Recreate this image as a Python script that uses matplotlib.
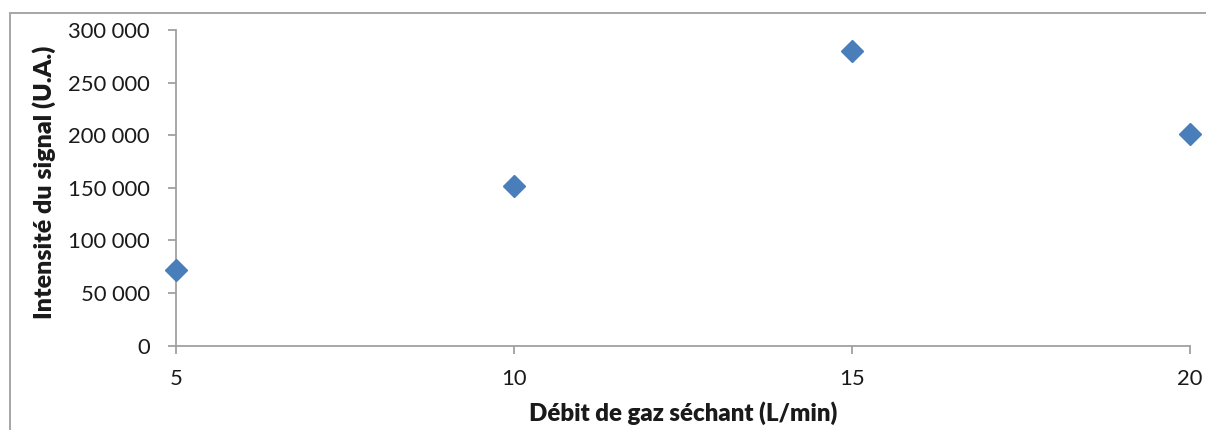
import matplotlib
matplotlib.use("Agg")
import matplotlib.pyplot as plt
from matplotlib.ticker import FuncFormatter, MultipleLocator
from matplotlib.patches import Rectangle

debit = [5, 10, 15, 20]
intensite = [71500, 151500, 280000, 201500]
x_label = "Débit de gaz séchant (L/min)"
y_label = "Intensité du signal (U.A.)"

plt.rcParams['font.family'] = ['Lato', 'DejaVu Sans']

W, H = 1206, 430
fig = plt.figure(figsize=(W / 100, H / 100), dpi=100)
ax = fig.add_axes([176 / W, 1 - 345.7 / H, (1190 - 176) / W, (345.7 - 30) / H])

ax.plot(debit, intensite, linestyle='none', marker='D', markersize=11,
        color='#4A7EBB', markeredgecolor='#4A7EBB', clip_on=False, zorder=5)

ax.set_xlim(5, 20)
ax.set_ylim(0, 300000)
ax.xaxis.set_major_locator(MultipleLocator(5))
ax.yaxis.set_major_locator(MultipleLocator(50000))
ax.yaxis.set_major_formatter(FuncFormatter(lambda v, p: f"{int(v):,}".replace(",", " ")))

for s in ['top', 'right']:
    ax.spines[s].set_visible(False)
for s in ['left', 'bottom']:
    ax.spines[s].set_color('#A0A0A0')
    ax.spines[s].set_linewidth(1.3)

ax.tick_params(axis='both', direction='out', length=6, width=1.3, color='#A0A0A0',
               labelsize=15.8, labelcolor='#1A1A1A')
ax.tick_params(axis='y', pad=13)
ax.tick_params(axis='x', pad=11)

ax.set_xlabel(x_label, fontsize=17.3, fontweight='heavy', color='#1A1A1A', labelpad=9)
ax.set_ylabel(y_label, fontsize=18, fontweight='heavy', color='#1A1A1A')
ax.yaxis.set_label_coords(-0.118, 0.517)

fig.add_artist(Rectangle((9.5 / W, -0.2), 1.5, 1 - 13.5 / H + 0.2,
                         transform=fig.transFigure, fill=False,
                         edgecolor='#A6A6A6', linewidth=1.4))

fig.savefig("out.png", dpi=100)
